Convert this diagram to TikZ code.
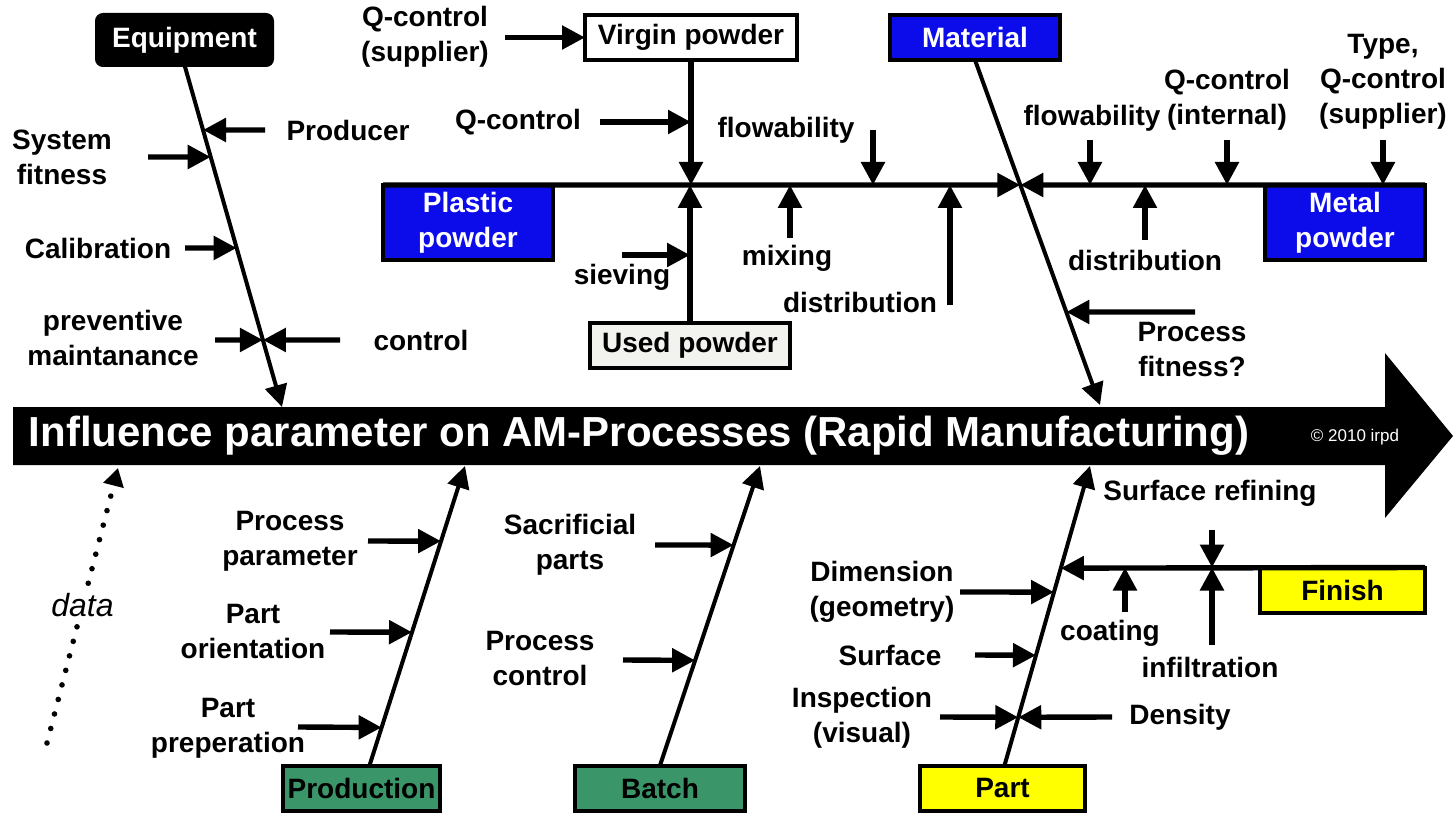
\documentclass[tikz,border=0pt]{standalone}
\usepackage{fontspec}
\setmainfont{Liberation Sans}
\usetikzlibrary{arrows.meta}

\definecolor{matblue}{RGB}{12,12,235}
\definecolor{batchgreen}{RGB}{58,150,104}
\definecolor{partyellow}{RGB}{255,255,0}
\definecolor{usedgray}{RGB}{242,242,238}

\tikzset{
  lbl/.style={font=\fontsize{14}{17.5}\selectfont\bfseries, align=center, inner sep=0pt},
  catbox/.style={draw=black, line width=2pt, font=\fontsize{14}{17.5}\selectfont\bfseries,
    align=center, inner sep=0pt, outer sep=0pt, minimum height=22.5pt},
  arr/.style={line width=2.7pt, -{Triangle[length=11.5pt,width=11.5pt]}},
  bone/.style={line width=2pt, -{Triangle[length=11pt,width=11pt]}},
  dataarr/.style={line width=2.8pt, line cap=round, dash pattern=on 0pt off 7.5pt,
    -{Triangle[length=9pt,width=10pt]}},
}

\begin{document}
\begin{tikzpicture}[x=0.5pt, y=-0.5pt]
\useasboundingbox (0,0) rectangle (1453,813);

% main arrow
\fill (13,407) -- (1385,407) -- (1385,353) -- (1453,436) -- (1385,518)
  -- (1385,465) -- (13,465) -- cycle;
\node[font=\fontsize{21}{24}\selectfont\bfseries, text=white] (title) at (639,436)
  {Influence parameter on AM-Processes (Rapid Manufacturing)};
\node[font=\fontsize{8.5}{10}\selectfont, text=white] (copy) at (1355,437)
  {\textcopyright{} 2010 irpd};

% category boxes
\node[catbox, fill=black, text=white, rounded corners=3pt, minimum width=87.5pt,
  minimum height=25pt] (equip) at (184.5,40) {Equipment};
\node[catbox, fill=white, minimum width=106pt] (virgin) at (691,37.5) {Virgin powder};
\node[catbox, fill=matblue, text=white, minimum width=85pt] (material) at (975,37.5) {Material};
\node[catbox, fill=matblue, text=white, minimum width=85pt, minimum height=37.5pt]
  (plastic) at (468,222.5) {Plastic\\powder};
\node[catbox, fill=matblue, text=white, minimum width=80pt, minimum height=37.5pt]
  (metal) at (1345,222.5) {Metal\\powder};
\node[catbox, fill=usedgray, minimum width=100pt] (used) at (690,345) {Used powder};
\node[catbox, fill=batchgreen, minimum width=78.5pt] (prod) at (361.5,788) {Production};
\node[catbox, fill=batchgreen, minimum width=85pt] (batch) at (660,788) {Batch};
\node[catbox, fill=partyellow, minimum width=82.5pt] (part) at (1002.5,788) {Part};
\node[catbox, fill=partyellow, minimum width=82.5pt] (finish) at (1342.5,590) {Finish};

% bones
\coordinate (eqE) at (282,407);
\coordinate (matE) at (1100,405);
\coordinate (prodE) at (465,466);
\coordinate (batchE) at (760,466);
\coordinate (partE) at (1090,466);
\draw[bone] (equip.south) -- (eqE)
  coordinate[pos=0.190] (eq1) coordinate[pos=0.269] (eq2)
  coordinate[pos=0.535] (eq3) coordinate[pos=0.804] (eq4);
\draw[bone] (material.south) -- (matE)
  coordinate[pos=0.3623] (mx) coordinate[pos=0.7304] (mat2);
\draw[bone] ([xshift=4pt]prod.north) -- (prodE)
  coordinate[pos=0.749] (pr1) coordinate[pos=0.445] (pr2) coordinate[pos=0.127] (pr3);
\draw[bone] (batch.north) -- (batchE)
  coordinate[pos=0.736] (b1) coordinate[pos=0.351] (b2);
\draw[bone] ([xshift=1pt]part.north) -- (partE)
  coordinate[pos=0.659] (p1) coordinate[pos=0.579] (p2)
  coordinate[pos=0.368] (p3) coordinate[pos=0.161] (p4);

% equipment
\node[lbl] (producer) at (348,130) {Producer};
\node[lbl] (sysfit) at (62,157) {System\\fitness};
\node[lbl] (calib) at (98,248) {Calibration};
\node[lbl] (prevmaint) at (113,338) {preventive\\maintanance};
\node[lbl] (control) at (421,340) {control};
\coordinate (producerT) at (265,130);
\coordinate (sysfitT) at (148,157);
\coordinate (calibT) at (185,248);
\coordinate (prevmaintT) at (215,340);
\coordinate (controlT) at (340,340);
\draw[arr] (producerT) -- (eq1);
\draw[arr] (sysfitT) -- (eq2);
\draw[arr] (calibT) -- (eq3);
\draw[arr] (prevmaintT) -- (eq4);
\draw[arr] (controlT) -- (eq4);

% material
\node[lbl] (qcsup) at (425,37) {Q-control\\(supplier)};
\node[lbl] (qcplast) at (518,122) {Q-control};
\node[lbl] (flowl) at (786,130) {flowability};
\node[lbl] (sieving) at (622,277) {sieving};
\node[lbl] (mixing) at (787,258) {mixing};
\node[lbl] (distl) at (860,302) {distribution};
\node[lbl] (flowr) at (1092,118) {flowability};
\node[lbl] (qcint) at (1227,100) {Q-control\\(internal)};
\node[lbl] (typeqc) at (1383,82) {Type,\\Q-control\\(supplier)};
\node[lbl] (distr) at (1145,260) {distribution};
\node[lbl] (procfit) at (1192,350) {Process\\fitness?};
\coordinate (qcsupT) at (505,37.5);
\coordinate (qcplastT) at (600,122);
\coordinate (flowlT) at (873,130);
\coordinate (sievingT) at (622,255);
\coordinate (mixingT) at (790,238);
\coordinate (distlT) at (950,305);
\coordinate (flowrT) at (1090,140);
\coordinate (qcintT) at (1227,140);
\coordinate (typeqcT) at (1383,140);
\coordinate (distrT) at (1145,240);
\coordinate (procfitT) at (1195,312);
\draw[arr] (qcsupT) -- (virgin.west);
\draw[arr] (plastic.north west) -- (mx);
\draw[arr] (metal.north east) -- (mx);
\draw[arr] (virgin.south) -- (virgin.south |- mx);
\draw[arr] (used.north) -- (used.north |- mx);
\draw[arr] (qcplastT) -- (qcplastT -| virgin.south);
\draw[arr] (sievingT) -- (sievingT -| used.north);
\draw[arr] (flowlT) -- (flowlT |- mx);
\draw[arr] (mixingT) -- (mixingT |- mx);
\draw[arr] (distlT) -- (distlT |- mx);
\draw[arr] (flowrT) -- (flowrT |- mx);
\draw[arr] (qcintT) -- (qcintT |- mx);
\draw[arr] (typeqcT) -- (typeqcT |- mx);
\draw[arr] (distrT) -- (distrT |- mx);
\draw[arr] (procfitT) -- (mat2);

% production and batch
\node[lbl] (procpar) at (290,541) {Process\\parameter};
\node[lbl] (partor) at (253,632) {Part\\orientation};
\node[lbl] (partprep) at (228,728) {Part\\preperation};
\node[lbl] (sacpart) at (570,545) {Sacrificial\\parts};
\node[lbl] (procctl) at (540,659) {Process\\control};
\coordinate (procparT) at (368,541);
\coordinate (partorT) at (330,632);
\coordinate (partprepT) at (298,727);
\coordinate (sacpartT) at (655,545);
\coordinate (procctlT) at (623,660);
\draw[arr] (procparT) -- (pr1);
\draw[arr] (partorT) -- (pr2);
\draw[arr] (partprepT) -- (pr3);
\draw[arr] (sacpartT) -- (b1);
\draw[arr] (procctlT) -- (b2);

% part and finish
\node[lbl] (dimen) at (882,592) {Dimension\\(geometry)};
\node[lbl] (surface) at (890,655) {Surface};
\node[lbl] (inspect) at (862,718) {Inspection\\(visual)};
\node[lbl] (density) at (1180,717) {Density};
\node[lbl] (surfref) at (1210,493) {Surface refining};
\node[lbl] (coating) at (1110,633) {coating};
\node[lbl] (infil) at (1210,667) {infiltration};
\coordinate (dimenT) at (960,592);
\coordinate (surfaceT) at (975,655);
\coordinate (inspectT) at (940,717);
\coordinate (densityT) at (1112,717);
\coordinate (surfrefT) at (1212,530);
\coordinate (coatingT) at (1125,612);
\coordinate (infilT) at (1212,645);
\draw[arr] (finish.north east) -- (p1);
\draw[arr] (dimenT) -- (p2);
\draw[arr] (surfaceT) -- (p3);
\draw[arr] (inspectT) -- (p4);
\draw[arr] (densityT) -- (p4);
\draw[arr] (surfrefT) -- (surfrefT |- finish.north);
\draw[arr] (coatingT) -- (coatingT |- finish.north);
\draw[arr] (infilT) -- (infilT |- finish.north);

% data
\coordinate (dataS) at (47,743);
\coordinate (dataE) at (118,468);
\draw[dataarr] (dataS) -- node[fill=white, inner sep=1pt,
  font=\fontsize{16}{18}\selectfont\itshape] (data) {data} (dataE);
\end{tikzpicture}
\end{document}
